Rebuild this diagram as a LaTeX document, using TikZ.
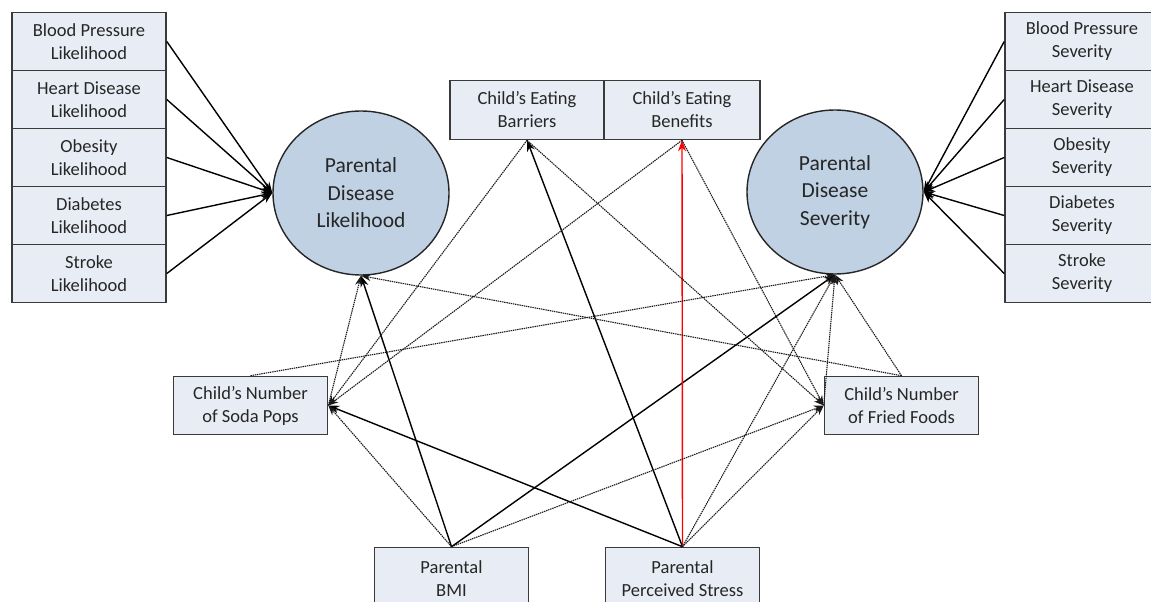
\documentclass[tikz,border=0pt]{standalone}
\usepackage{fontspec}
\setmainfont{Carlito}
\usetikzlibrary{arrows.meta,shapes.geometric}
\definecolor{boxfill}{HTML}{E8EDF5}
\definecolor{circfill}{HTML}{BFD1E3}
\definecolor{edgegray}{HTML}{3A3A3A}
\begin{document}
\begin{tikzpicture}[x=1pt,y=-1pt,
 box/.style={draw=edgegray,line width=1.6pt,fill=boxfill,minimum width=154pt,minimum height=58pt,inner sep=0pt,align=center,font=\fontsize{18.5}{23}\selectfont,text=black!85},
 lat/.style={ellipse,draw=black!85,line width=1.4pt,fill=circfill,minimum width=176pt,minimum height=164pt,inner sep=0pt,align=center,font=\fontsize{21.5}{27.5}\selectfont,text=black!85},
 sol/.style={line width=1.4pt,-{Stealth[length=11pt,width=8pt]}},
 dot/.style={line width=1.1pt,black!90,dash pattern=on 1.4pt off 0.8pt,-{Stealth[length=10pt,width=7pt]}},
]
\clip (0,0) rectangle (1151,602);
\fill[white] (0,0) rectangle (1151,602);

% left indicator boxes
\node[box] (l1) at (89,41.5) {Blood Pressure\\Likelihood};
\node[box] (l2) at (89,99.5) {Heart Disease\\Likelihood};
\node[box] (l3) at (89,157.5) {Obesity\\Likelihood};
\node[box] (l4) at (89,215.5) {Diabetes\\Likelihood};
\node[box] (l5) at (89,273.5) {Stroke\\Likelihood};
% right indicator boxes
\node[box] (r1) at (1082,41.5) {Blood Pressure\\Severity};
\node[box] (r2) at (1082,99.5) {Heart Disease\\Severity};
\node[box] (r3) at (1082,157.5) {Obesity\\Severity};
\node[box] (r4) at (1082,215.5) {Diabetes\\Severity};
\node[box] (r5) at (1082,273.5) {Stroke\\Severity};

% latent variables
\node[lat] (lc) at (361,193) {Parental\\Disease\\Likelihood};
\node[lat] (rc) at (835,192) {Parental\\Disease\\Severity};

% eating boxes
\node[box,minimum height=59pt] (bar) at (527,110) {Child’s Eating\\Barriers};
\node[box,minimum height=59pt,minimum width=156pt] (ben) at (682,110) {Child’s Eating\\Benefits};

% child behaviour
\node[box] (soda) at (250.5,405.5) {Child’s Number\\of Soda Pops};
\node[box] (fried) at (901.5,405.5) {Child’s Number\\of Fried Foods};

% parental
\node[box,minimum height=62pt] (bmi) at (451.5,578.5) {Parental\\BMI};
\node[box,minimum height=62pt] (stress) at (682.5,578.5) {Parental\\Perceived Stress};

% measurement paths
\foreach \i in {1,...,5} {
  \draw[sol] (l\i.east) -- (lc.west);
  \draw[sol] (r\i.west) -- (rc.east);
}

% structural paths (solid)
\draw[sol] (bmi.north) -- (lc.south);
\draw[sol] (bmi.north) -- (rc.south);
\draw[sol] (stress.north) -- (bar.south);
\draw[sol] (stress.north) -- (soda.east);
\draw[sol,red] (stress.north) -- (ben.south);

% structural paths (dotted)
\draw[dot] (bmi.north) -- (soda.east);
\draw[dot] (bmi.north) -- (fried.west);
\draw[dot] (stress.north) -- (rc.south);
\draw[dot] (stress.north) -- (fried.west);
\draw[dot] (bar.south) -- (soda.east);
\draw[dot] (bar.south) -- (fried.west);
\draw[dot] (ben.south) -- (soda.east);
\draw[dot] (ben.south) -- (fried.west);
\draw[dot] (soda.east) -- (lc.south);
\draw[dot] (soda.north) -- (rc.south);
\draw[dot] (fried.north) -- (lc.south);
\draw[dot] (fried.north) -- (rc.south);
\draw[dot] (fried.west) -- (rc.south);
\end{tikzpicture}
\end{document}
